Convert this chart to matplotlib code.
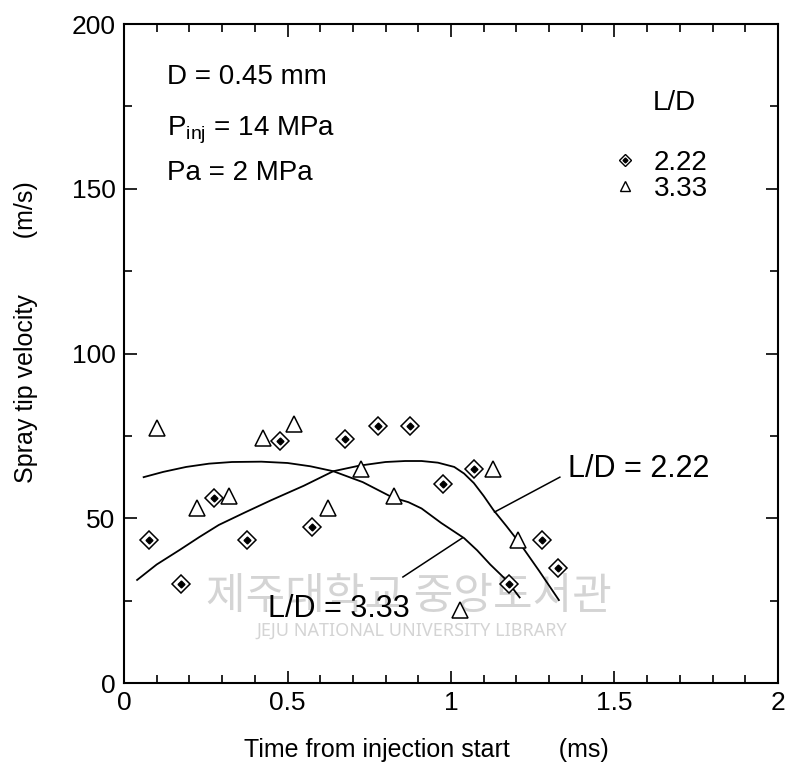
import matplotlib
matplotlib.use("Agg")
import matplotlib.pyplot as plt
from matplotlib.ticker import MultipleLocator

plt.rcParams['font.family'] = ['Liberation Sans', 'DejaVu Sans']

# measured points, L/D = 2.22 (diamonds)
t_222 = [0.077, 0.174, 0.275, 0.376, 0.477, 0.575, 0.676, 0.777, 0.875, 0.976,
         1.071, 1.177, 1.278, 1.327]
v_222 = [43.3, 30.2, 56.3, 43.3, 73.5, 47.5, 74.1, 78.1, 78.1, 60.5,
         65.0, 30.2, 43.3, 34.8]

# measured points, L/D = 3.33 (triangles)
t_333 = [0.101, 0.223, 0.321, 0.425, 0.520, 0.624, 0.725, 0.826, 1.028, 1.128, 1.204]
v_333 = [77.5, 53.0, 56.9, 74.4, 78.7, 53.0, 65.1, 56.9, 22.1, 65.0, 43.3]

# fitted trend curves
fit_t_222 = [0.04, 0.10, 0.17, 0.23, 0.29, 0.37, 0.45, 0.55, 0.64, 0.72, 0.80,
             0.86, 0.91, 0.96, 1.01, 1.04, 1.07, 1.10, 1.13, 1.17, 1.21, 1.27, 1.33]
fit_v_222 = [31.3, 36.0, 40.4, 44.3, 48.0, 51.8, 55.5, 59.9, 64.3, 66.0, 67.1,
             67.4, 67.4, 66.9, 65.6, 63.6, 60.7, 56.8, 52.5, 47.6, 42.5, 34.0, 25.2]
fit_t_333 = [0.06, 0.12, 0.19, 0.26, 0.33, 0.42, 0.50, 0.57, 0.64, 0.73, 0.82,
             0.87, 0.91, 0.97, 1.04, 1.08, 1.12, 1.17, 1.21]
fit_v_333 = [62.5, 64.1, 65.6, 66.6, 67.1, 67.2, 66.8, 65.8, 64.3, 61.0, 56.4,
             54.9, 53.0, 48.6, 44.0, 40.3, 36.0, 31.2, 26.0]

fig = plt.figure(figsize=(7.85, 7.78), dpi=100)
ax = fig.add_axes([0.158, 0.122, 0.833, 0.847])

# scan watermark
ax.text(0.87, 26, "제주대학교 중앙도서관", fontsize=31, color='#d4d4d4',
        family=['Noto Sans CJK KR'], ha='center', va='center', zorder=0)
ax.text(0.88, 16, "JEJU NATIONAL UNIVERSITY LIBRARY", fontsize=13, color='#d4d4d4',
        family=['Noto Sans'], ha='center', va='center', zorder=0)

ax.plot(fit_t_222, fit_v_222, color='black', lw=1.3)
ax.plot(fit_t_333, fit_v_333, color='black', lw=1.3)

ax.plot(t_222, v_222, linestyle='none', marker='D', ms=9, mfc='white',
        mec='black', mew=1.1)
ax.plot(t_222, v_222, linestyle='none', marker='D', ms=3.5, color='black')
ax.plot(t_333, v_333, linestyle='none', marker='^', ms=11, mfc='white',
        mec='black', mew=1.1)

# curve labels with leader lines
ax.plot([1.133, 1.333], [51.9, 62.5], color='black', lw=1.1)
ax.text(1.357, 62.6, "L/D = 2.22", fontsize=22, va='baseline', ha='left')
ax.plot([0.853, 1.034], [32.2, 44.0], color='black', lw=1.1)
ax.text(0.44, 20.1, "L/D = 3.33", fontsize=22, va='baseline', ha='left')

# conditions
ax.text(0.13, 181.7, "D = 0.45 mm", fontsize=20, va='baseline')
ax.text(0.13, 166.2, r"P$_{\mathregular{inj}}$ = 14 MPa", fontsize=20, va='baseline')
ax.text(0.13, 152.7, "Pa = 2 MPa", fontsize=20, va='baseline')

# legend by hand
ax.text(1.616, 173.9, "L/D", fontsize=20, va='baseline')
ax.plot([1.531], [158.7], marker='D', ms=6.5, mfc='white', mec='black', mew=1.0)
ax.plot([1.531], [158.7], marker='D', ms=2.5, color='black')
ax.text(1.62, 155.7, "2.22", fontsize=20, va='baseline')
ax.plot([1.531], [150.8], marker='^', ms=7.5, mfc='white', mec='black', mew=1.0)
ax.text(1.62, 147.8, "3.33", fontsize=20, va='baseline')

ax.set_xlim(0, 2)
ax.set_ylim(0, 200)
ax.xaxis.set_minor_locator(MultipleLocator(0.1))
ax.yaxis.set_major_locator(MultipleLocator(50))
ax.yaxis.set_minor_locator(MultipleLocator(25))
ax.set_xticks([0, 0.5, 1, 1.5, 2])
ax.set_xticklabels(['0', '0.5', '1', '1.5', '2'])
ax.tick_params(which='both', direction='in', top=True, right=True, labelsize=19, width=1.2)
ax.tick_params(which='major', length=9, pad=6)
ax.tick_params(which='minor', length=6)
for s in ax.spines.values():
    s.set_linewidth(1.5)

ax.set_xlabel("Time from injection start       (ms)", fontsize=18)
ax.xaxis.set_label_coords(0.463, -0.083)
ax.set_ylabel("Spray tip velocity        (m/s)", fontsize=18)
ax.yaxis.set_label_coords(-0.131, 0.533)

fig.savefig("out.png", dpi=100)
